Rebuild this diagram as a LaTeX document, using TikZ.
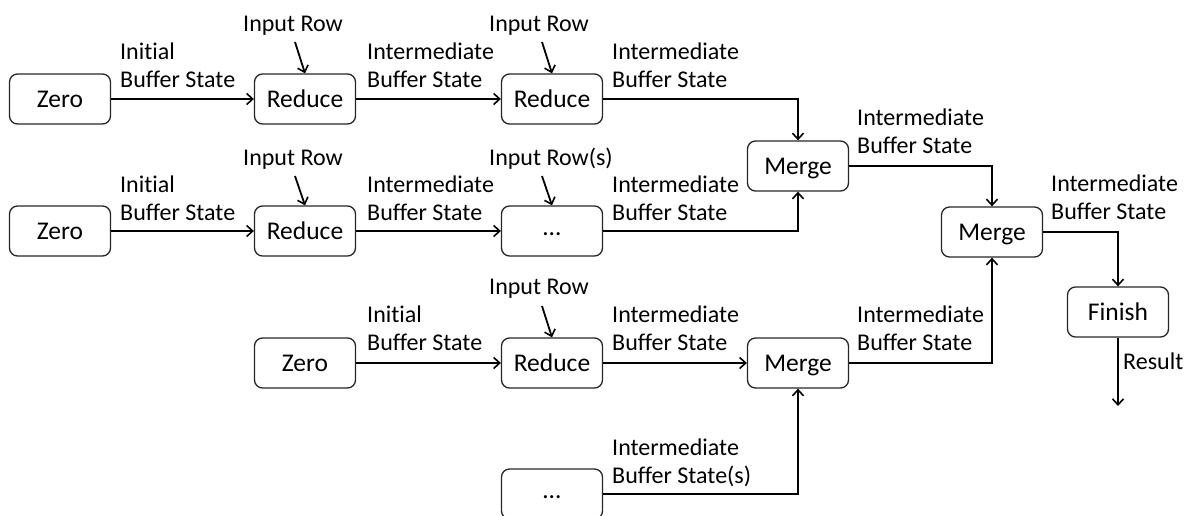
\documentclass[tikz,border=0pt]{standalone}
\usepackage{fontspec}
\setmainfont{Carlito}[Ligatures={NoCommon,NoContextual}]
\usetikzlibrary{arrows.meta}

\begin{document}
\begin{tikzpicture}[x=1pt,y=-1pt,
  stage/.style={draw=black!85, line width=1.3pt, rounded corners=8pt,
    minimum width=101pt, minimum height=50pt, inner sep=0pt,
    text height=17pt, text depth=0pt,
    font=\fontsize{25.5}{30}\selectfont},
  dots/.style={stage, text height=8pt},
  lbl/.style={anchor=base west, inner sep=0pt, align=left,
    font=\fontsize{24}{28}\selectfont},
  flow/.style={line width=1.8pt, -{Straight Barb[length=6pt,width=11pt,line width=1.6pt]}}
]
\clip (0,0) rectangle (1184,515);

% processing stages
\node[stage] (z1) at (60,99)  {Zero};
\node[stage] (r1) at (305,99) {Reduce};
\node[stage] (r2) at (552,99) {Reduce};
\node[stage] (z2) at (60,231) {Zero};
\node[stage] (r3) at (305,231) {Reduce};
\node[dots]  (d1) at (552,231) {…};
\node[stage] (m1) at (798,166) {Merge};
\node[stage] (m2) at (992,232) {Merge};
\node[stage] (fin) at (1118,312) {Finish};
\node[stage] (z3) at (305,363) {Zero};
\node[stage] (r4) at (552,363) {Reduce};
\node[stage] (m3) at (798,363) {Merge};
\node[dots]  (d2) at (552,494) {…};

% edge labels (placed at the baseline of their last line)
\node[lbl] (t1) at (120,87)  {Initial\\Buffer State};
\node[lbl] (t2) at (367,87)  {Intermediate\\Buffer State};
\node[lbl] (t3) at (612,87)  {Intermediate\\Buffer State};
\node[lbl] (t4) at (120,220) {Initial\\Buffer State};
\node[lbl] (t5) at (367,220) {Intermediate\\Buffer State};
\node[lbl] (t6) at (612,220) {Intermediate\\Buffer State};
\node[lbl] (t7) at (857,153) {Intermediate\\Buffer State};
\node[lbl] (t8) at (1051,219) {Intermediate\\Buffer State};
\node[lbl] (t9) at (857,350) {Intermediate\\Buffer State};
\node[lbl] (t10) at (367,350) {Initial\\Buffer State};
\node[lbl] (t11) at (612,350) {Intermediate\\Buffer State};
\node[lbl] (t12) at (612,483) {Intermediate\\Buffer State(s)};
\node[lbl] (t13) at (1123,369) {Result};

% input rows
\node[lbl] (in1) at (243,31)  {Input Row};
\node[lbl] (in2) at (489,31)  {Input Row};
\node[lbl] (in3) at (243,165) {Input Row};
\node[lbl] (in4) at (489,165) {Input Row(s)};
\node[lbl] (in5) at (489,294) {Input Row};

\coordinate (s1) at (295,42);
\coordinate (s2) at (542,42);
\coordinate (s3) at (295,176);
\coordinate (s4) at (542,176);
\coordinate (s5) at (542,306);
\coordinate (res) at (1118,406);

% connectors
\draw[flow] (z1) -- (r1);
\draw[flow] (r1) -- (r2);
\draw[flow] (r2.east) -| (m1.north);
\draw[flow] (z2) -- (r3);
\draw[flow] (r3) -- (d1);
\draw[flow] (d1.east) -| (m1.south);
\draw[flow] (m1.east) -| (m2.north);
\draw[flow] (z3) -- (r4);
\draw[flow] (r4) -- (m3);
\draw[flow] (d2.east) -| (m3.south);
\draw[flow] (m3.east) -| (m2.south);
\draw[flow] (m2.east) -| (fin.north);
\draw[flow] (fin.south) -- (res);

\draw[flow] (s1) -- (r1.north);
\draw[flow] (s2) -- (r2.north);
\draw[flow] (s3) -- (r3.north);
\draw[flow] (s4) -- (d1.north);
\draw[flow] (s5) -- (r4.north);
\end{tikzpicture}
\end{document}
